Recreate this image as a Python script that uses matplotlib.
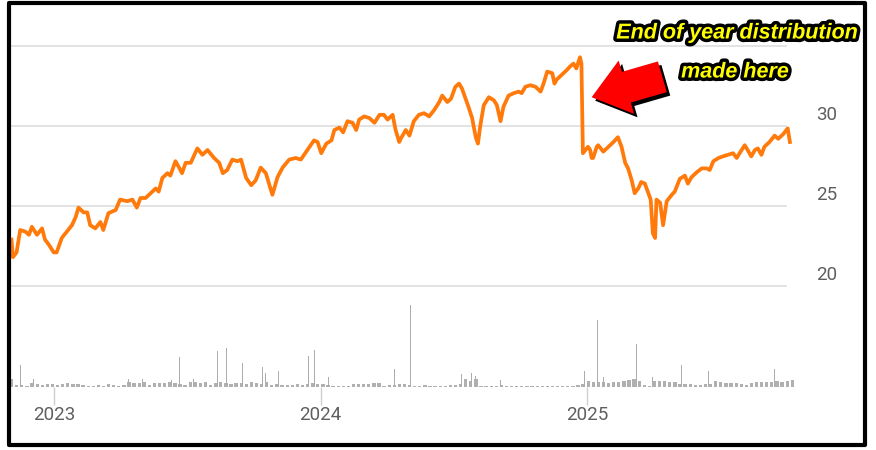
import matplotlib
matplotlib.use('Agg')
import matplotlib.pyplot as plt
import matplotlib.patheffects as pe
from matplotlib.patches import Rectangle, FancyArrowPatch
import pandas as pd

# price
price_dates = [
    '2022-11-03', '2022-11-05', '2022-11-10', '2022-11-15', '2022-11-22', '2022-11-27', '2022-12-01',
    '2022-12-08', '2022-12-15', '2022-12-19', '2022-12-24', '2022-12-31',
    '2023-01-04', '2023-01-11', '2023-01-18', '2023-01-25', '2023-01-30', '2023-02-03', '2023-02-10',
    '2023-02-15', '2023-02-19', '2023-02-26', '2023-03-05', '2023-03-09', '2023-03-16', '2023-03-26',
    '2023-04-01', '2023-04-11', '2023-04-18', '2023-04-24', '2023-04-29', '2023-05-06', '2023-05-13',
    '2023-05-20', '2023-05-24', '2023-05-29', '2023-06-05', '2023-06-09', '2023-06-16', '2023-06-21',
    '2023-06-25', '2023-06-30', '2023-07-07', '2023-07-16', '2023-07-23', '2023-07-30', '2023-08-08',
    '2023-08-15', '2023-08-20', '2023-08-26', '2023-09-02', '2023-09-09', '2023-09-14', '2023-09-21',
    '2023-09-28', '2023-10-04', '2023-10-11', '2023-10-18', '2023-10-23', '2023-10-27', '2023-11-03',
    '2023-11-10', '2023-11-19', '2023-11-28', '2023-12-05', '2023-12-14', '2023-12-23', '2023-12-28',
    '2024-01-02', '2024-01-09', '2024-01-16', '2024-01-20', '2024-01-27', '2024-02-01', '2024-02-07',
    '2024-02-14', '2024-02-19', '2024-02-23', '2024-03-01', '2024-03-08', '2024-03-15', '2024-03-22',
    '2024-03-28', '2024-04-02', '2024-04-09', '2024-04-13', '2024-04-18', '2024-04-20', '2024-04-27',
    '2024-05-02', '2024-05-08', '2024-05-15', '2024-05-22', '2024-05-29', '2024-06-05', '2024-06-12',
    '2024-06-16', '2024-06-23', '2024-06-28', '2024-07-04', '2024-07-09', '2024-07-13', '2024-07-18',
    '2024-07-22', '2024-07-27', '2024-08-01', '2024-08-04', '2024-08-07', '2024-08-12', '2024-08-19',
    '2024-08-26', '2024-08-30', '2024-09-04', '2024-09-08', '2024-09-15', '2024-09-22', '2024-09-29',
    '2024-10-03', '2024-10-08', '2024-10-15', '2024-10-22', '2024-10-29', '2024-11-02', '2024-11-07',
    '2024-11-14', '2024-11-17', '2024-11-20', '2024-11-27', '2024-12-04', '2024-12-08', '2024-12-13',
    '2024-12-17', '2024-12-22', '2024-12-24', '2024-12-26',
    '2025-01-02', '2025-01-05', '2025-01-07', '2025-01-09', '2025-01-14', '2025-01-16', '2025-01-23',
    '2025-01-30', '2025-02-06', '2025-02-12', '2025-02-17', '2025-02-22', '2025-02-26', '2025-03-03',
    '2025-03-07', '2025-03-12', '2025-03-16', '2025-03-21', '2025-03-25', '2025-03-29', '2025-04-01',
    '2025-04-04', '2025-04-06', '2025-04-11', '2025-04-15', '2025-04-20', '2025-04-27', '2025-05-01',
    '2025-05-08', '2025-05-15', '2025-05-19', '2025-05-24', '2025-05-31', '2025-06-07', '2025-06-14',
    '2025-06-18', '2025-06-23', '2025-06-30', '2025-07-06', '2025-07-13', '2025-07-20', '2025-07-25',
    '2025-07-29', '2025-08-05', '2025-08-09', '2025-08-14', '2025-08-19', '2025-08-23', '2025-08-28',
    '2025-09-01', '2025-09-08', '2025-09-15', '2025-09-20', '2025-09-27', '2025-10-03', '2025-10-06',
]
price_vals = [
    22.9, 21.8, 22.1, 23.5, 23.4, 23.2, 23.7,
    23.2, 23.6, 22.9, 22.6, 22.1,
    22.1, 23.0, 23.4, 23.8, 24.3, 24.9, 24.6,
    24.6, 23.8, 23.6, 24.0, 23.5, 24.55, 24.75,
    25.4, 25.3, 25.4, 24.9, 25.5, 25.5, 25.8,
    26.1, 25.9, 26.75, 27.05, 26.9, 27.8, 27.4,
    27.05, 27.7, 27.7, 28.6, 28.2, 28.5, 28.0,
    27.7, 27.05, 27.25, 27.9, 27.8, 27.9, 26.75,
    26.3, 26.6, 27.4, 27.05, 26.3, 25.7, 26.8,
    27.4, 27.9, 28.0, 27.9, 28.5, 29.1, 29.0,
    28.3, 28.9, 29.1, 29.75, 29.9, 29.6, 30.3,
    30.2, 29.75, 30.4, 30.6, 30.5, 30.2, 30.7,
    30.7, 30.4, 30.7, 29.75, 29.0, 29.2, 29.75,
    29.4, 30.3, 30.7, 30.8, 30.6, 31.0, 31.5,
    31.9, 31.5, 31.7, 32.45, 32.65, 32.35, 31.7,
    31.2, 30.5, 29.3, 28.9, 29.95, 31.3, 31.8,
    31.6, 31.3, 30.3, 31.2, 31.9, 32.05, 32.15,
    32.05, 32.45, 32.55, 32.45, 32.15, 32.65, 33.4,
    33.3, 32.65, 32.9, 33.2, 33.5, 33.7, 33.9,
    33.6, 34.3, 33.9, 28.3,
    28.7, 28.5, 28.0, 28.0, 28.7, 28.8, 28.4,
    28.7, 29.0, 29.3, 28.7, 27.7, 27.35, 26.6,
    25.8, 26.1, 26.5, 26.4, 25.9, 25.4, 23.3,
    23.0, 25.4, 25.2, 23.8, 25.3, 25.7, 25.9,
    26.7, 26.9, 26.4, 26.8, 27.1, 27.35, 27.35,
    27.25, 27.8, 28.0, 28.1, 28.2, 28.3, 28.0,
    28.3, 28.8, 28.5, 28.1, 28.5, 28.6, 28.2,
    28.7, 29.0, 29.4, 29.2, 29.5, 29.85, 29.0,
]

# weekly background volume, starting 2022-11-01
vol_start = '2022-11-01'
vol_weekly = [
    8, 2, 2, 1, 4, 3, 2, 3, 3, 2, 3, 4, 3, 3, 2, 1, 1, 2, 1, 3,
    2, 1, 2, 5, 4, 4, 5, 2, 4, 4, 4, 5, 4, 3, 2, 5, 5, 4, 5, 2,
    4, 5, 4, 3, 4, 4, 3, 5, 4, 3, 5, 2, 3, 2, 2, 2, 3, 2, 3, 4,
    3, 3, 2, 1, 1, 1, 1, 3, 3, 3, 3, 4, 4, 1, 2, 2, 3, 3, 2, 1,
    1, 2, 1, 1, 1, 1, 2, 2, 3, 8, 6, 8, 1, 1, 1, 1, 2, 1, 1, 1,
    1, 1, 1, 1, 1, 1, 1, 1, 1, 1, 1, 2, 3, 6, 5, 5, 5, 4, 5, 5,
    6, 7, 8, 6, 2, 1, 6, 6, 6, 5, 5, 3, 3, 3, 2, 2, 3, 3, 6, 5,
    4, 4, 4, 3, 2, 4, 5, 5, 5, 5, 6, 5, 6, 7,
]
# single-day volume spikes
spike_dates = [
    '2022-11-15', '2022-12-03', '2023-04-13', '2023-05-02', '2023-06-10', '2023-06-22', '2023-07-11',
    '2023-08-13', '2023-08-25', '2023-09-16', '2023-10-13', '2023-10-18', '2023-11-05', '2023-12-16',
    '2023-12-24', '2024-01-12', '2024-04-12', '2024-05-03', '2024-07-13', '2024-07-26', '2024-08-01',
    '2024-09-04', '2024-12-28', '2025-01-02', '2025-01-15', '2025-01-23', '2025-03-02', '2025-03-10',
    '2025-04-01', '2025-05-10', '2025-06-16', '2025-09-15', '2025-10-02',
]
spike_vals = [
    21.7, 8, 8, 8, 7, 29.7, 8,
    35.7, 39, 24, 20, 14, 15.7, 31.3,
    37.3, 10, 18, 82.3, 13.3, 14, 11,
    6.7, 15.7, 24, 66.7, 10, 20, 43.3,
    10, 21.7, 15.7, 18, 11.7,
]

price_ticks = [20, 25, 30]
grid_levels = [20, 25, 30, 35]
year_ticks = ['2023-01-01', '2024-01-01', '2025-01-01']
year_labels = ['2023', '2024', '2025']

W, H = 876, 450
fig = plt.figure(figsize=(W / 100, H / 100), dpi=100)
fig.patch.set_facecolor('white')

x0, x1 = 10, 795
ax = fig.add_axes([x0 / W, (H - 286) / H, (x1 - x0) / W, 240 / H])
axv = fig.add_axes([x0 / W, (H - 387) / H, (x1 - x0) / W, 85 / H])

xlim = (pd.Timestamp('2022-11-01'), pd.Timestamp('2025-10-13'))
gray_txt = '#5f5f5f'

# price panel
for v in grid_levels:
    ax.axhline(v, xmin=0, xmax=(786 - x0) / (x1 - x0), color='#dedede', lw=1.2,
               clip_on=False, zorder=1)
ax.plot(pd.to_datetime(price_dates), price_vals, color='#ff7a0a', lw=2.7,
        solid_joinstyle='round', zorder=3)
ax.set_xlim(*xlim)
ax.set_ylim(20, 35)
ax.axis('off')
for v in price_ticks:
    ax.annotate(str(v), xy=(827 / W, v), xycoords=('figure fraction', 'data'),
                xytext=(0, 8), textcoords='offset points', ha='center', va='center',
                fontsize=13.5, color=gray_txt, family=['Roboto', 'DejaVu Sans'])

# volume panel
axv.bar(pd.date_range(vol_start, periods=len(vol_weekly), freq='7D'), vol_weekly,
        width=4.5, align='edge', color='#b0b0b0', lw=0)
axv.bar(pd.to_datetime(spike_dates), spike_vals, width=1.3, color='#acacac', lw=0)
axv.set_xlim(*xlim)
axv.set_ylim(0, 85)
for s in axv.spines.values():
    s.set_visible(False)
axv.set_yticks([])
axv.set_xticks(pd.to_datetime(year_ticks))
axv.set_xticklabels(year_labels, fontsize=13.5, color=gray_txt, family=['Roboto', 'DejaVu Sans'])
axv.tick_params(axis='x', length=13, width=1, color='#cfcfcf', pad=1)

# annotation
fx = lambda px: px / W
fy = lambda py: (H - py) / H
txt_kw = dict(ha='center', va='center', color='#ffff00', fontsize=15.5, fontweight='bold',
              fontstyle='italic', family=['Liberation Sans', 'DejaVu Sans'],
              path_effects=[pe.withStroke(linewidth=5, foreground='black')])
fig.text(fx(737), fy(33), 'End of year distribution', **txt_kw)
fig.text(fx(735), fy(72), 'made here', **txt_kw)

arrow = FancyArrowPatch((fx(665), fy(76)), (fx(589), fy(98)), transform=fig.transFigure,
                        arrowstyle='simple,head_width=2.0,head_length=1.3,tail_width=1.15',
                        mutation_scale=20, facecolor='#ff0000', edgecolor='none',
                        path_effects=[pe.SimplePatchShadow(offset=(2.5, -2.5), shadow_rgbFace='black', alpha=1),
                                      pe.Normal()])
fig.add_artist(arrow)

# frame
fig.add_artist(Rectangle((fx(9), fy(445)), fx(865) - fx(9), fy(3) - fy(445), transform=fig.transFigure,
                         fill=False, edgecolor='black', lw=3, joinstyle='round'))

fig.savefig('out.png', dpi=100)
